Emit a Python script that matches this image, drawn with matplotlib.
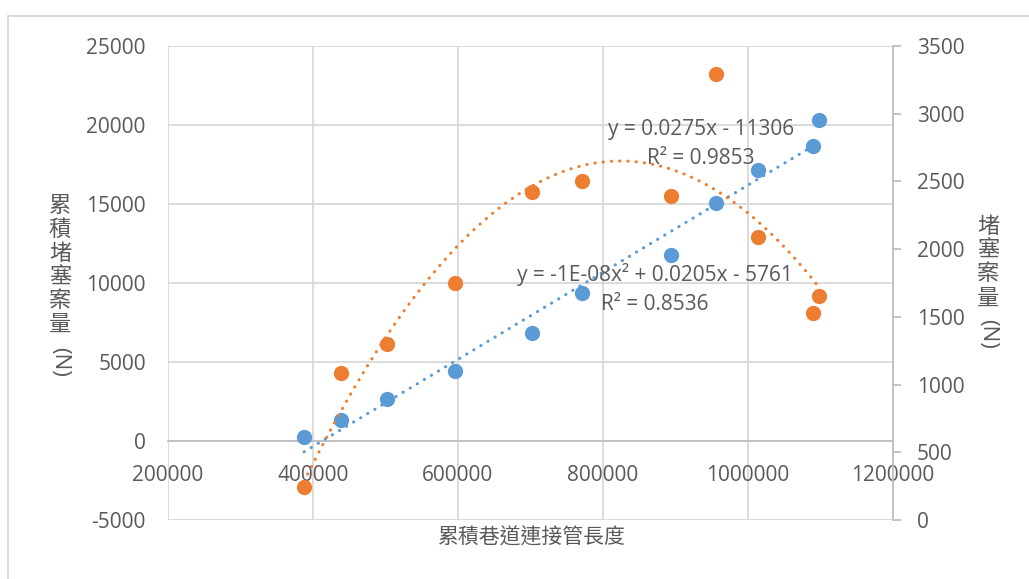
import numpy as np
import matplotlib
matplotlib.use("Agg")
import matplotlib.pyplot as plt
from matplotlib.patches import Rectangle
from matplotlib.ticker import FuncFormatter

plt.rcParams['font.family'] = ['Open Sans', 'Noto Sans CJK TC', 'DejaVu Sans']
plt.rcParams['axes.unicode_minus'] = False

# cumulative connecting pipe length (x)
length = [387600, 439000, 502500, 595900, 702000, 771400,
          893800, 955900, 1014200, 1090100, 1097900]
# cumulative blockage cases (left axis)
cum_cases = [280, 1350, 2680, 4410, 6820, 9350,
             11750, 15060, 17130, 18700, 20340]
# blockage cases (right axis)
cases = [244, 1083, 1300, 1748, 2420, 2506,
         2393, 3292, 2090, 1529, 1657]

blue = "#5B9BD5"
orange = "#ED7D31"
grey = "#595959"
grid_c = "#D9D9D9"

fig = plt.figure(figsize=(10.29, 5.79), dpi=100)
ax = fig.add_axes([168/1029, 59/579, 725/1029, 474/579])
ax2 = ax.twinx()

x = np.array(length, dtype=float)
xs = np.linspace(x.min(), x.max(), 200)

# linear trend for cumulative cases
p1 = np.polyfit(x, cum_cases, 1)
ax.plot(xs, np.polyval(p1, xs), color=blue, lw=2.2,
        linestyle=(0, (0.1, 2.6)), dash_capstyle='round', zorder=3)
ax.plot(length, cum_cases, 'o', color=blue, ms=11, mec='none', zorder=4)

# quadratic trend for cases
p2 = np.polyfit(x, cases, 2)
ax2.plot(xs, np.polyval(p2, xs), color=orange, lw=2.2,
         linestyle=(0, (0.1, 2.6)), dash_capstyle='round', zorder=3)
ax2.plot(length, cases, 'o', color=orange, ms=11, mec='none', zorder=4)

fmt = FuncFormatter(lambda v, pos: f"{v:.0f}")
ax.set_xlim(200000, 1200000)
ax.set_ylim(-5000, 25000)
ax.set_xticks(np.arange(200000, 1200001, 200000))
ax.set_yticks(np.arange(-5000, 25001, 5000))
ax.xaxis.set_major_formatter(fmt)
ax.yaxis.set_major_formatter(fmt)
ax.grid(True, color=grid_c, lw=1.3)
ax.set_axisbelow(True)
for s in ['top', 'left', 'right']:
    ax.spines[s].set_visible(False)
ax.spines['bottom'].set_position(('data', 0))
ax.spines['bottom'].set_color("#BFBFBF")
ax.spines['bottom'].set_linewidth(1.3)
ax.tick_params(axis='x', length=0, pad=17, labelsize=15, labelcolor=grey)
ax.tick_params(axis='y', length=0, pad=16, labelsize=15, labelcolor=grey)

ax2.set_ylim(0, 3500)
ax2.set_yticks(np.arange(0, 3501, 500))
ax2.yaxis.set_major_formatter(fmt)
for s in ['top', 'left', 'bottom']:
    ax2.spines[s].set_visible(False)
ax2.spines['right'].set_color("#BFBFBF")
ax2.spines['right'].set_linewidth(1.3)
ax2.tick_params(axis='y', length=6, width=1.3, color="#BFBFBF", pad=11,
                labelsize=15, labelcolor=grey)

# trendline labels
fig.text(701/1029, 1 - 130/579, "y = 0.0275x - 11306", ha='center', va='center',
         fontsize=15, color=grey)
fig.text(701/1029, 1 - 158/579, "R² = 0.9853", ha='center', va='center',
         fontsize=15, color=grey)
fig.text(655/1029, 1 - 274/579, "y = -1E-08x² + 0.0205x - 5761", ha='center',
         va='center', fontsize=15, color=grey)
fig.text(655/1029, 1 - 304/579, "R² = 0.8536", ha='center', va='center',
         fontsize=15, color=grey)

# axis titles
cjk = ['Noto Sans CJK TC', 'DejaVu Sans']
fig.text(532/1029, 1 - 538/579, "累積巷道連接管長度", ha='center', va='center',
         fontsize=15, color=grey, family=cjk)
fig.text(60/1029, 1 - 265/579, "\n".join("累積堵塞案量"), ha='center',
         va='center', fontsize=16, color=grey, family=cjk, linespacing=1.05)
fig.text(60/1029, 1 - 362/579, "(N)", ha='center', va='center', rotation=-90,
         fontsize=16, color=grey)
fig.text(988/1029, 1 - 262/579, "\n".join("堵塞案量"), ha='center',
         va='center', fontsize=16, color=grey, family=cjk, linespacing=1.05)
fig.text(988/1029, 1 - 334/579, "(N)", ha='center', va='center', rotation=-90,
         fontsize=16, color=grey)

# chart area border (cropped on the right and bottom)
fig.add_artist(Rectangle((8/1029, -0.2), 1.2, 1.2 - 16/579, transform=fig.transFigure,
                         fill=False, ec="#D9D9D9", lw=1.3))

fig.savefig("out.png", dpi=100)
